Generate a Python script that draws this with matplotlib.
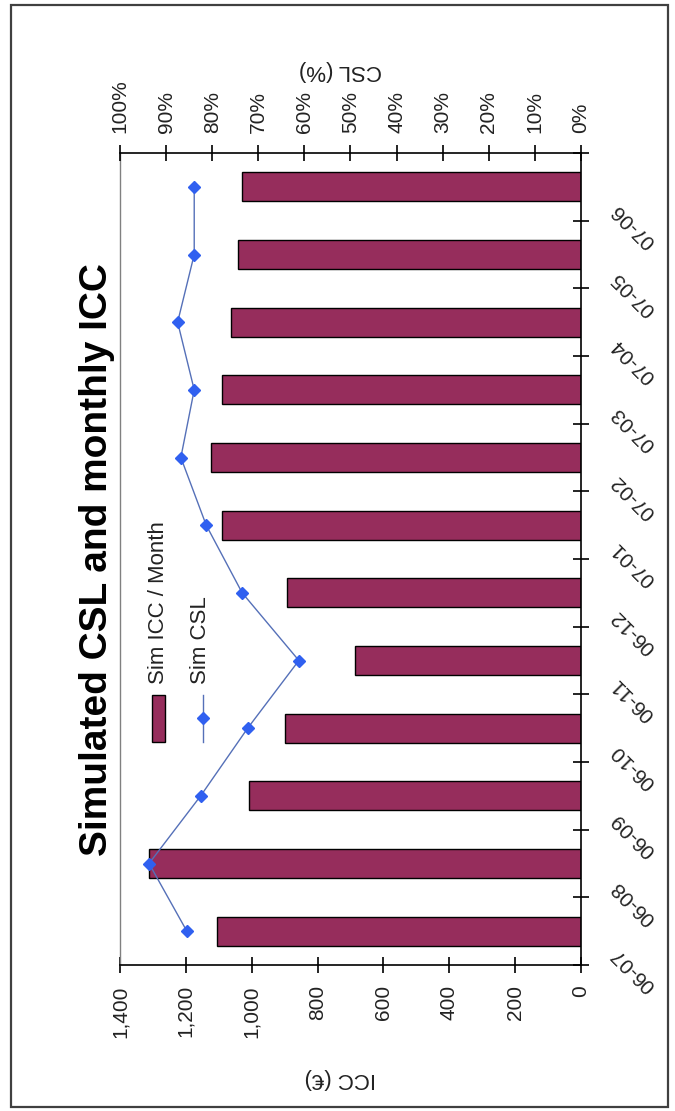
import numpy as np
import matplotlib
matplotlib.use("Agg")
import matplotlib.pyplot as plt
import matplotlib.transforms as mtransforms
from matplotlib.patches import Rectangle
from matplotlib.lines import Line2D

plt.rcParams['font.family'] = ['Liberation Sans', 'DejaVu Sans']

# monthly simulation results
months = ["06-07", "06-08", "06-09", "06-10", "06-11", "06-12",
          "07-01", "07-02", "07-03", "07-04", "07-05", "07-06"]
icc = [1106, 1312, 1008, 899, 686, 894, 1089, 1124, 1089, 1063, 1041, 1029]
csl = [0.855, 0.937, 0.825, 0.723, 0.612, 0.735, 0.813, 0.868, 0.839, 0.875, 0.839, 0.839]
icc_ticks = [0, 200, 400, 600, 800, 1000, 1200, 1400]
csl_ticks = [0.0, 0.1, 0.2, 0.3, 0.4, 0.5, 0.6, 0.7, 0.8, 0.9, 1.0]

W, H = 675, 1111
BAR_COLOR = "#962d5c"
LINE_COLOR = "#5570b8"
MARKER_COLOR = "#3060f0"
TXT = "#222222"


def fx(px):
    return px / W


def fy(py):
    return 1 - py / H


fig = plt.figure(figsize=(W / 100, H / 100), dpi=100)

# outer chart frame
fig.patches.append(Rectangle((fx(11), fy(1107)), fx(668) - fx(11), fy(5) - fy(1107),
                             transform=fig.transFigure, fill=False,
                             edgecolor="#404040", linewidth=1.6))

# the chart is laid out turned on its side: months run up the right edge
ax = fig.add_axes([fx(120), fy(965), fx(581) - fx(120), fy(153) - fy(965)])
y = np.arange(len(months))

ax.barh(y, icc, height=0.43, color=BAR_COLOR, edgecolor="black", linewidth=1.0, zorder=2)
ax.set_xlim(1400, 0)
ax.set_ylim(-0.5, len(months) - 0.5)

ax.set_xticks(icc_ticks)
ax.set_xticklabels([f"{v:,}" for v in icc_ticks], rotation=90, fontsize=15, color=TXT)
ax.tick_params(axis="x", direction="inout", length=11, width=1.2, pad=9)

ax.yaxis.tick_right()
ax.set_yticks(np.arange(-0.5, len(months), 1.0))
ax.set_yticklabels([])
ax.tick_params(axis="y", direction="inout", length=11, width=1.2)

for s in ["bottom", "right"]:
    ax.spines[s].set_color("black")
    ax.spines[s].set_linewidth(1.2)
ax.spines["left"].set_color("#808080")
ax.spines["left"].set_linewidth(1.0)
ax.spines["top"].set_visible(False)

# month labels, slanted
trans = mtransforms.blended_transform_factory(ax.transAxes, ax.transData)
for i, m in enumerate(months):
    ax.text(1.057, i - 0.2, m, transform=trans, rotation=135,
            ha="left", va="top", fontsize=15, color=TXT)

# CSL on the second axis
ax2 = ax.twiny()
ax2.plot(csl, y, color=LINE_COLOR, linewidth=1.0, marker="D", markersize=6.5,
         markerfacecolor=MARKER_COLOR, markeredgecolor=MARKER_COLOR, zorder=3)
ax2.set_xlim(1.0, 0.0)
ax2.set_xticks(csl_ticks)
ax2.set_xticklabels([f"{int(round(v * 100))}%" for v in csl_ticks],
                    rotation=90, fontsize=15, color=TXT)
ax2.tick_params(axis="x", direction="inout", length=11, width=1.2, pad=9)
for s in ["bottom", "left", "right"]:
    ax2.spines[s].set_visible(False)
ax2.spines["top"].set_color("black")
ax2.spines["top"].set_linewidth(1.2)

# axis titles and heading
fig.text(fx(340), fy(1079), "ICC (€)", rotation=180, ha="center", va="center",
         fontsize=16, color=TXT)
fig.text(fx(340), fy(70), "CSL (%)", rotation=180, ha="center", va="center",
         fontsize=16, color=TXT)
fig.text(fx(97), fy(560), "Simulated CSL and monthly ICC", rotation=90,
         ha="center", va="center", fontsize=28, fontweight="bold", color="black")

# legend
fig.patches.append(Rectangle((fx(152), fy(742)), fx(165) - fx(152), fy(695) - fy(742),
                             transform=fig.transFigure, facecolor=BAR_COLOR,
                             edgecolor="black", linewidth=1.0))
fig.lines.append(Line2D([fx(203), fx(203)], [fy(742), fy(695)], transform=fig.transFigure,
                        color=LINE_COLOR, linewidth=1.0))
fig.lines.append(Line2D([fx(203)], [fy(718)], transform=fig.transFigure, marker="D",
                        markersize=6.5, color=MARKER_COLOR))
fig.text(fx(158), fy(684), "Sim ICC / Month", rotation=90, ha="center", va="bottom",
         fontsize=16, color=TXT)
fig.text(fx(200), fy(684), "Sim CSL", rotation=90, ha="center", va="bottom",
         fontsize=16, color=TXT)

fig.savefig("out.png", dpi=100)
